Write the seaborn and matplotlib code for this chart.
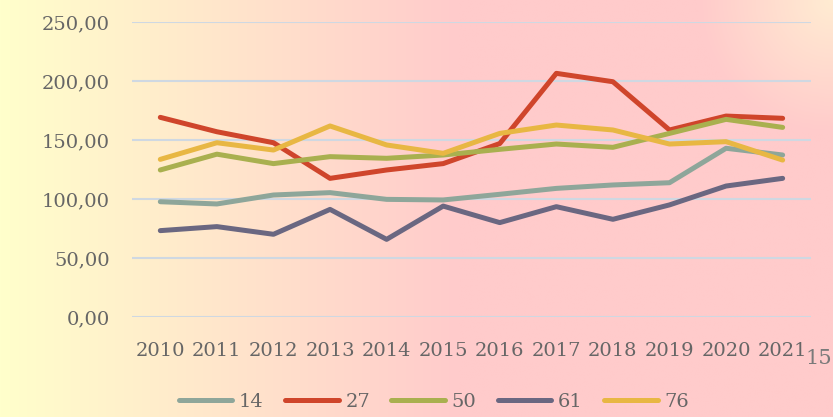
import numpy as np
import pandas as pd
import matplotlib.pyplot as plt
import seaborn as sns
from matplotlib.colors import to_rgb

years = [2010, 2011, 2012, 2013, 2014, 2015, 2016, 2017, 2018, 2019, 2020, 2021]
series_names = ["14", "27", "50", "61", "76"]
s14 = [97.7, 95.8, 103.4, 105.4, 99.7, 99.2, 104.0, 109.0, 111.9, 113.8, 143.0, 137.3]
s27 = [169.2, 157.0, 147.7, 117.5, 124.6, 130.0, 147.0, 206.5, 199.4, 158.5, 170.3, 168.4]
s50 = [124.6, 138.0, 130.0, 135.9, 134.5, 137.3, 142.1, 146.6, 143.8, 155.6, 167.5, 160.7]
s61 = [73.2, 76.6, 70.1, 91.2, 65.8, 94.0, 80.0, 93.5, 82.8, 95.0, 111.0, 117.5]
s76 = [133.6, 147.7, 141.5, 161.9, 145.8, 138.7, 155.6, 162.7, 158.5, 146.6, 148.6, 133.0]
colors = ["#8EA69A", "#CF452B", "#A9B04F", "#6A6781", "#E8B743"]

df = pd.DataFrame({
    "year": years * 5,
    "serie": [n for n in series_names for _ in years],
    "value": s14 + s27 + s50 + s61 + s76,
})

sns.set_style("white")
plt.rcParams["font.family"] = ["DejaVu Serif"]

fig = plt.figure(figsize=(8.33, 4.17), dpi=100)

# gradient background: yellow on the left, pink on the right, peach top-right corner
bg = fig.add_axes([0, 0, 1, 1], zorder=-10)
h, w = 200, 400
xx, yy = np.meshgrid(np.linspace(0, 1, w), np.linspace(1, 0, h))
yellow = np.array(to_rgb("#FFFFCC"))
pink = np.array(to_rgb("#FFCBCB"))
peach = np.array(to_rgb("#FFECD2"))
t = np.clip(xx / 0.55, 0, 1)[..., None]
img = yellow * (1 - t) + pink * t
d = np.sqrt(((1 - xx) / 0.16) ** 2 + ((1 - yy) / 0.32) ** 2)
g = np.clip(1 - d, 0, 1)[..., None]
img = img * (1 - g) + peach * g
bg.imshow(img, aspect="auto", extent=[0, 1, 0, 1])
bg.axis("off")

ax = fig.add_axes([0.1585, 0.2398, 0.815, 0.7074])
ax.patch.set_alpha(0)
sns.lineplot(data=df, x="year", y="value", hue="serie", palette=colors,
             linewidth=3.6, ax=ax, legend=True)

ax.set_ylim(0, 250)
ax.set_xlim(2009.5, 2021.5)
ax.set_yticks(np.arange(0, 251, 50))
ax.set_yticklabels([f"{v:.2f}".replace(".", ",") for v in np.arange(0, 251, 50)])
ax.set_xticks(years)
ax.set_xticklabels([str(y) for y in years])
ax.grid(axis="y", color="#CFD8E2", linewidth=1.5)
ax.set_axisbelow(True)
for sp in ax.spines.values():
    sp.set_visible(False)
ax.set_xlabel("")
ax.set_ylabel("")
ax.tick_params(axis="y", length=0, pad=16, labelsize=14, labelcolor="#666666")
ax.tick_params(axis="x", length=0, pad=18, labelsize=14, labelcolor="#666666")

handles, labels = ax.get_legend_handles_labels()
ax.get_legend().remove()
fig.legend(handles, labels, loc="center", bbox_to_anchor=(434 / 833, 1 - 402 / 417),
           ncol=5, frameon=False, fontsize=14, handlelength=2.75, handletextpad=0.35,
           columnspacing=1.1, labelcolor="#666666")

# stray page number at the right edge
fig.text(832 / 833, 1 - 359 / 417, "15", fontsize=15, color="#7A7A7A", va="center", ha="right")

fig.savefig("out.png", dpi=100)
